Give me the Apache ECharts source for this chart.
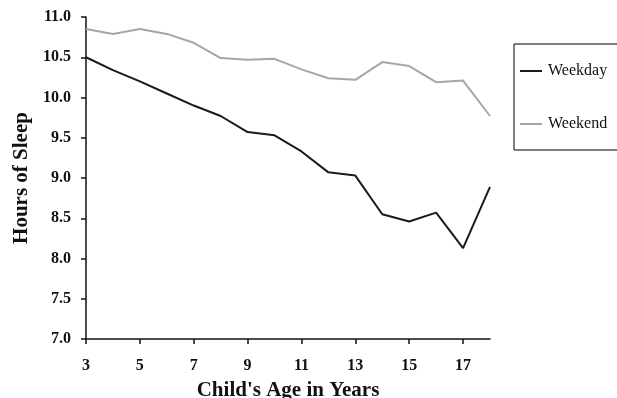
<!DOCTYPE html>
<html><head><meta charset="utf-8">
<script src="https://cdn.jsdelivr.net/npm/echarts@6/dist/echarts.min.js"></script>
<style>html,body{margin:0;padding:0;background:#fff}#c{width:617px;height:398px}</style>
</head><body><div id="c"></div>
<script>
var ages = ['3','4','5','6','7','8','9','10','11','12','13','14','15','16','17','18'];
var weekday = [10.50,10.34,10.20,10.05,9.90,9.77,9.57,9.53,9.33,9.07,9.03,8.55,8.46,8.57,8.13,8.89];
var weekend = [10.85,10.79,10.85,10.79,10.68,10.49,10.47,10.48,10.35,10.24,10.22,10.44,10.39,10.19,10.21,9.77];
var yTicks = [7.0,7.5,8.0,8.5,9.0,9.5,10.0,10.5,11.0];

var font = '"Liberation Serif","Times New Roman",serif';
var chart = echarts.init(document.getElementById('c'), null, {renderer:'canvas'});
chart.setOption({
  animation:false,
  grid:{left:86, top:17, right:127, bottom:59, containLabel:false, outerBoundsMode:'none'},
  legend:{
    orient:'vertical', left:514, top:44,
    borderColor:'#000', borderWidth:1, padding:[19,40,18,6], itemGap:37,
    itemWidth:22, itemHeight:16, itemStyle:{borderWidth:0},
    textStyle:{fontFamily:font, fontSize:16, color:'#111', padding:[0,0,0,1]},
    data:[{name:'Weekday', icon:'path://M0,7 L22,7 L22,9 L0,9 Z', itemStyle:{color:'#1a1a1a'}},
          {name:'Weekend', icon:'path://M0,7 L22,7 L22,9 L0,9 Z', itemStyle:{color:'#a6a6a6'}}]
  },
  xAxis:{
    type:'category', data:ages, boundaryGap:false,
    name:"Child's Age in Years", nameLocation:'middle', nameGap:41,
    nameTextStyle:{fontFamily:font, fontSize:21, fontWeight:'bold', color:'#111'},
    axisLine:{lineStyle:{color:'#111', width:1.5}},
    axisTick:{show:true, interval:1, length:5, lineStyle:{color:'#111', width:1.5}},
    axisLabel:{interval:1, margin:19, fontFamily:font, fontSize:16, fontWeight:'bold', color:'#111'},
    splitLine:{show:false}
  },
  yAxis:{
    type:'value', min:yTicks[0], max:yTicks[yTicks.length-1], interval:0.5,
    name:'Hours of Sleep', nameLocation:'middle', nameGap:54, nameRotate:90,
    nameTextStyle:{fontFamily:font, fontSize:21, fontWeight:'bold', color:'#111'},
    axisLine:{show:true, lineStyle:{color:'#111', width:1.5}},
    axisTick:{show:true, length:5, lineStyle:{color:'#111', width:1.5}},
    axisLabel:{margin:15, fontFamily:font, fontSize:16, fontWeight:'bold', color:'#111',
      formatter:function(v){return v.toFixed(1);}},
    splitLine:{show:false}
  },
  series:[
    {name:'Weekday', type:'line', data:weekday, symbol:'none', lineStyle:{color:'#1a1a1a', width:2}, itemStyle:{color:'#1a1a1a'}},
    {name:'Weekend', type:'line', data:weekend, symbol:'none', lineStyle:{color:'#a6a6a6', width:2}, itemStyle:{color:'#a6a6a6'}}
  ]
});
</script></body></html>
